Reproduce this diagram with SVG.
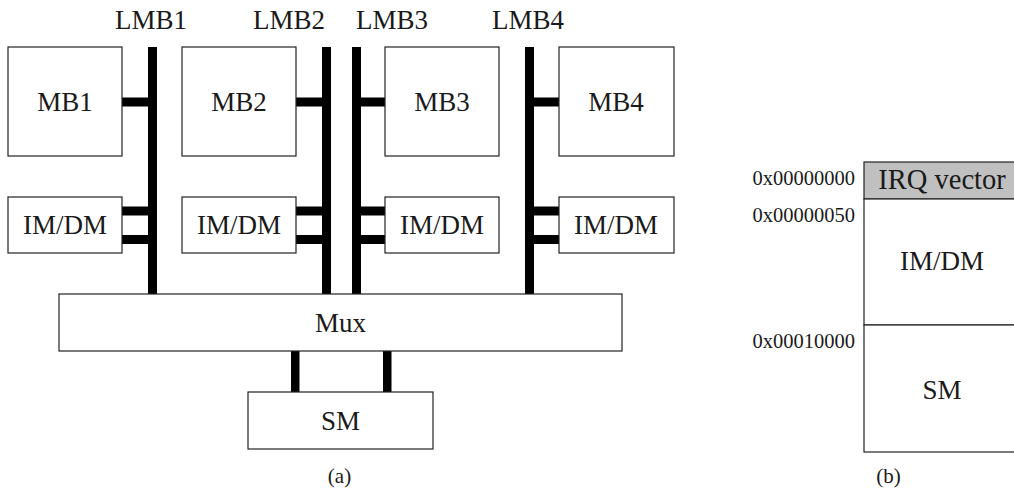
<svg xmlns="http://www.w3.org/2000/svg" width="1014" height="494" viewBox="0 0 1014 494" font-family="Liberation Serif, Times New Roman, serif">
  <style>
    .box { fill: #ffffff; stroke: #222222; stroke-width: 1.2; }
    .irq { fill: #c0c0c0; stroke: #222222; stroke-width: 1.2; }
    .lbl { font-size: 27px; fill: #1a1a1a; text-anchor: middle; }
    .addr { font-size: 20.5px; fill: #1a1a1a; text-anchor: end; }
    .cap { font-size: 21px; fill: #1a1a1a; text-anchor: middle; }
    .bus { fill: #000000; }
  </style>

  <!-- (a) system architecture -->
  <g id="buses">
    <!-- local memory buses -->
    <rect class="bus" x="148" y="47" width="9" height="247"/>
    <rect class="bus" x="322" y="47" width="9" height="247"/>
    <rect class="bus" x="352" y="47" width="9" height="247"/>
    <rect class="bus" x="525" y="47" width="9" height="247"/>
    <!-- processor stubs -->
    <rect class="bus" x="122" y="97.5" width="26" height="9"/>
    <rect class="bus" x="296" y="97.5" width="26" height="9"/>
    <rect class="bus" x="361" y="97.5" width="24" height="9"/>
    <rect class="bus" x="534" y="97.5" width="25" height="9"/>
    <!-- IM/DM stubs -->
    <rect class="bus" x="122" y="206.5" width="26" height="9"/>
    <rect class="bus" x="122" y="235" width="26" height="9"/>
    <rect class="bus" x="296" y="206.5" width="26" height="9"/>
    <rect class="bus" x="296" y="235" width="26" height="9"/>
    <rect class="bus" x="361" y="206.5" width="24" height="9"/>
    <rect class="bus" x="361" y="235" width="24" height="9"/>
    <rect class="bus" x="534" y="206.5" width="25" height="9"/>
    <rect class="bus" x="534" y="235" width="25" height="9"/>
    <!-- Mux to shared memory -->
    <rect class="bus" x="291" y="351" width="8.5" height="41"/>
    <rect class="bus" x="383" y="351" width="8.5" height="41"/>
  </g>

  <g id="bus-labels">
    <text class="lbl" x="151" y="29">LMB1</text>
    <text class="lbl" x="289" y="29">LMB2</text>
    <text class="lbl" x="392" y="29">LMB3</text>
    <text class="lbl" x="528" y="29">LMB4</text>
  </g>

  <g id="mb1"><rect class="box" x="8" y="47" width="114" height="109"/><text class="lbl" x="65" y="111">MB1</text></g>
  <g id="mb2"><rect class="box" x="182" y="47" width="114" height="109"/><text class="lbl" x="239" y="111">MB2</text></g>
  <g id="mb3"><rect class="box" x="385" y="47" width="114" height="109"/><text class="lbl" x="442" y="111">MB3</text></g>
  <g id="mb4"><rect class="box" x="559" y="47" width="115" height="109"/><text class="lbl" x="616" y="111">MB4</text></g>

  <g id="imdm1"><rect class="box" x="8" y="197" width="114" height="56"/><text class="lbl" x="65" y="234">IM/DM</text></g>
  <g id="imdm2"><rect class="box" x="182" y="197" width="114" height="56"/><text class="lbl" x="239" y="234">IM/DM</text></g>
  <g id="imdm3"><rect class="box" x="385" y="197" width="114" height="56"/><text class="lbl" x="442" y="234">IM/DM</text></g>
  <g id="imdm4"><rect class="box" x="559" y="197" width="115" height="56"/><text class="lbl" x="616" y="234">IM/DM</text></g>

  <g id="mux"><rect class="box" x="59" y="294" width="563" height="57"/><text class="lbl" x="340.5" y="332">Mux</text></g>
  <g id="sm"><rect class="box" x="248" y="392" width="185" height="57"/><text class="lbl" x="340.5" y="430">SM</text></g>

  <text class="cap" x="339.5" y="483">(a)</text>

  <!-- (b) memory map -->
  <g id="memory-map">
    <rect class="irq" x="864" y="162" width="160" height="37"/>
    <text class="lbl" x="942" y="189" style="font-size:28.5px">IRQ vector</text>
    <rect class="box" x="864" y="199" width="160" height="126"/>
    <text class="lbl" x="942" y="270">IM/DM</text>
    <rect class="box" x="864" y="325" width="160" height="127"/>
    <text class="lbl" x="942" y="399">SM</text>
  </g>
  <g id="addresses">
    <text class="addr" x="855" y="185">0x00000000</text>
    <text class="addr" x="855" y="222">0x00000050</text>
    <text class="addr" x="855" y="348">0x00010000</text>
  </g>

  <text class="cap" x="888.5" y="483">(b)</text>
</svg>
